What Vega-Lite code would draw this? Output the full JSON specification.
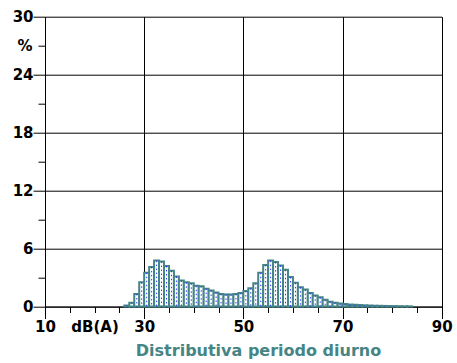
{
  "$schema": "https://vega.github.io/schema/vega-lite/v6.json",
  "width": 396.7,
  "height": 289.8,
  "autosize": "none",
  "padding": {"left": 45, "top": 16.7, "right": 15.3, "bottom": 56.5},
  "background": "white",
  "config": {
    "view": {"stroke": null},
    "axis": {
      "labelFont": "DejaVu Sans",
      "labelFontWeight": "bold",
      "labelFontSize": 15,
      "labelColor": "black",
      "domainColor": "black",
      "tickColor": "black",
      "gridColor": "black",
      "gridOpacity": 1,
      "labelOverlap": false,
      "labelFlush": false
    }
  },
  "data": {
    "values": [
      {"lo": 26, "hi": 27, "p": 0.1},
      {"lo": 27, "hi": 28, "p": 0.4},
      {"lo": 28, "hi": 29, "p": 1.3},
      {"lo": 29, "hi": 30, "p": 2.5},
      {"lo": 30, "hi": 31, "p": 3.5},
      {"lo": 31, "hi": 32, "p": 4.1},
      {"lo": 32, "hi": 33, "p": 4.75},
      {"lo": 33, "hi": 34, "p": 4.65},
      {"lo": 34, "hi": 35, "p": 4.2},
      {"lo": 35, "hi": 36, "p": 3.7},
      {"lo": 36, "hi": 37, "p": 3.1},
      {"lo": 37, "hi": 38, "p": 2.7},
      {"lo": 38, "hi": 39, "p": 2.5},
      {"lo": 39, "hi": 40, "p": 2.4},
      {"lo": 40, "hi": 41, "p": 2.15},
      {"lo": 41, "hi": 42, "p": 2.1},
      {"lo": 42, "hi": 43, "p": 1.85},
      {"lo": 43, "hi": 44, "p": 1.65},
      {"lo": 44, "hi": 45, "p": 1.45},
      {"lo": 45, "hi": 46, "p": 1.3},
      {"lo": 46, "hi": 47, "p": 1.25},
      {"lo": 47, "hi": 48, "p": 1.25},
      {"lo": 48, "hi": 49, "p": 1.3},
      {"lo": 49, "hi": 50, "p": 1.4},
      {"lo": 50, "hi": 51, "p": 1.6},
      {"lo": 51, "hi": 52, "p": 1.9},
      {"lo": 52, "hi": 53, "p": 2.4},
      {"lo": 53, "hi": 54, "p": 3.5},
      {"lo": 54, "hi": 55, "p": 4.3},
      {"lo": 55, "hi": 56, "p": 4.75},
      {"lo": 56, "hi": 57, "p": 4.6},
      {"lo": 57, "hi": 58, "p": 4.25},
      {"lo": 58, "hi": 59, "p": 3.8},
      {"lo": 59, "hi": 60, "p": 3.05},
      {"lo": 60, "hi": 61, "p": 2.45},
      {"lo": 61, "hi": 62, "p": 2.0},
      {"lo": 62, "hi": 63, "p": 1.75},
      {"lo": 63, "hi": 64, "p": 1.4},
      {"lo": 64, "hi": 65, "p": 1.15},
      {"lo": 65, "hi": 66, "p": 0.95},
      {"lo": 66, "hi": 67, "p": 0.7},
      {"lo": 67, "hi": 68, "p": 0.5},
      {"lo": 68, "hi": 69, "p": 0.4},
      {"lo": 69, "hi": 70, "p": 0.3},
      {"lo": 70, "hi": 71, "p": 0.25},
      {"lo": 71, "hi": 72, "p": 0.2},
      {"lo": 72, "hi": 73, "p": 0.18},
      {"lo": 73, "hi": 74, "p": 0.15},
      {"lo": 74, "hi": 75, "p": 0.12},
      {"lo": 75, "hi": 76, "p": 0.1},
      {"lo": 76, "hi": 77, "p": 0.08},
      {"lo": 77, "hi": 78, "p": 0.07},
      {"lo": 78, "hi": 79, "p": 0.06},
      {"lo": 79, "hi": 80, "p": 0.05},
      {"lo": 80, "hi": 81, "p": 0.04},
      {"lo": 81, "hi": 82, "p": 0.03},
      {"lo": 82, "hi": 83, "p": 0.02},
      {"lo": 83, "hi": 84, "p": 0.02}
    ]
  },
  "layer": [
    {
      "mark": {"type": "bar", "fill": "white", "stroke": "#458585", "strokeWidth": 2},
      "encoding": {
        "x": {
          "field": "lo", "type": "quantitative",
          "scale": {"domain": [10, 90], "nice": false, "zero": false},
          "axis": {
            "orient": "bottom",
            "values": [10, 30, 50, 70, 90],
            "grid": true,
            "tickSize": 12,
            "labelPadding": 1,
            "title": "Distributiva periodo diurno",
            "titleFont": "DejaVu Sans",
            "titleFontWeight": "bold",
            "titleFontSize": 16,
            "titleColor": "#458585",
            "titleAlign": "center",
            "titleBaseline": "alphabetic",
            "titleX": 213,
            "titleY": 49
          }
        },
        "x2": {"field": "hi"},
        "y": {
          "field": "p", "type": "quantitative",
          "scale": {"domain": [0, 30], "nice": false},
          "axis": {
            "orient": "left",
            "values": [0, 6, 12, 18, 24, 30],
            "grid": true,
            "tickSize": 12,
            "labelPadding": 0,
            "labelBaseline": "middle",
            "title": null
          }
        },
        "y2": {"datum": 0}
      }
    },
    {
      "mark": {"type": "rule", "xOffset": 2.5, "stroke": "#2f3cff", "strokeWidth": 1, "strokeDash": [1.5, 2.5]},
      "encoding": {
        "x": {
          "field": "lo", "type": "quantitative",
          "axis": {
            "orient": "bottom",
            "values": [15, 20, 25, 35, 40, 45, 55, 60, 65, 75, 80, 85],
            "grid": false,
            "domain": false,
            "tickSize": 6,
            "labelPadding": 7,
            "labelExpr": "datum.value == 20 ? 'dB(A)' : ''",
            "title": null
          }
        },
        "y": {
          "field": "p", "type": "quantitative",
          "axis": {
            "orient": "left",
            "values": [3, 9, 15, 21, 27],
            "grid": false,
            "domain": false,
            "tickSize": 7,
            "labelPadding": 6,
            "labelExpr": "datum.value == 27 ? '%' : ''",
            "title": null
          }
        },
        "y2": {"datum": 0}
      }
    }
  ],
  "resolve": {"axis": {"x": "independent", "y": "independent"}}
}
